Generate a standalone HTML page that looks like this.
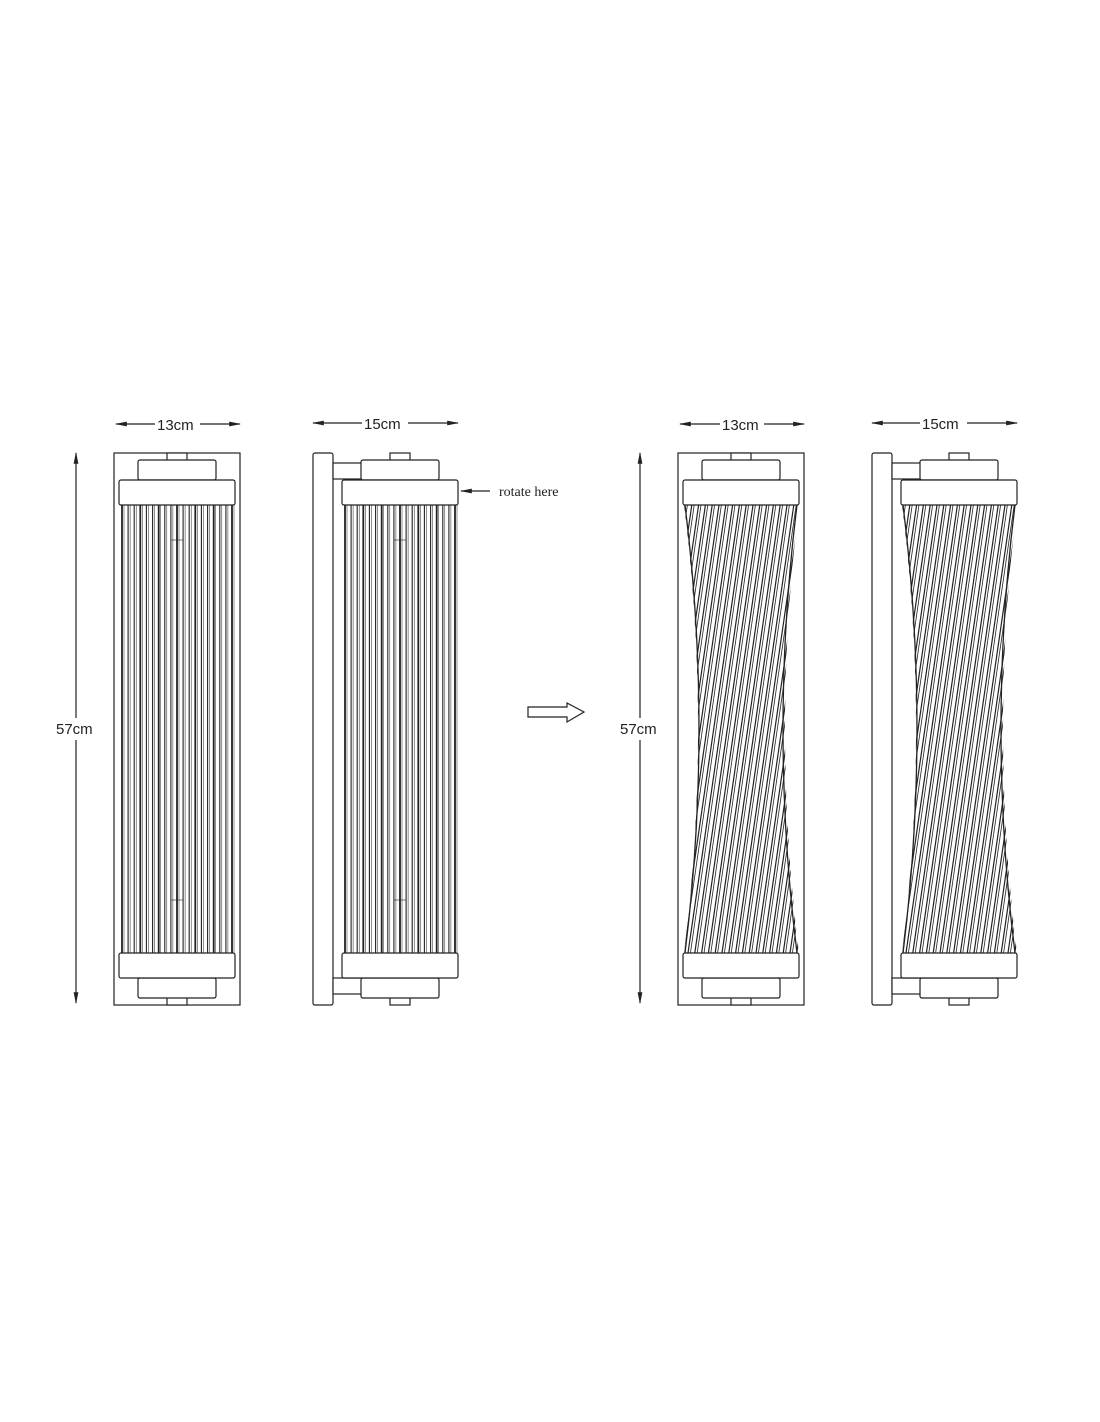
<!DOCTYPE html>
<html><head><style>
body{margin:0;background:#fff;}
svg{display:block}
text{font-family:"Liberation Sans",sans-serif;font-size:15px;fill:#222}
</style></head><body>
<svg id="s" width="1100" height="1422" viewBox="0 0 1100 1422" xmlns="http://www.w3.org/2000/svg">
<defs>
<marker id="a" markerWidth="10" markerHeight="6" refX="9" refY="3" orient="auto"><path d="M0,1 L10,3 L0,5z" fill="#222"/></marker>
<clipPath id="c1"><path d="M684,505 Q712,729 684,953 H799 Q771,729 799,505 Z"/></clipPath>
<clipPath id="c2"><path d="M902,505 Q930,729 902,953 H1017 Q989,729 1017,505 Z"/></clipPath>
</defs>
<g stroke="#222" stroke-width="1.2" fill="none">
<line x1="155" y1="424" x2="116" y2="424" marker-end="url(#a)"/>
<line x1="200" y1="424" x2="240" y2="424" marker-end="url(#a)"/>
<line x1="362" y1="423" x2="313" y2="423" marker-end="url(#a)"/>
<line x1="408" y1="423" x2="458" y2="423" marker-end="url(#a)"/>
<line x1="720" y1="424" x2="680" y2="424" marker-end="url(#a)"/>
<line x1="764" y1="424" x2="804" y2="424" marker-end="url(#a)"/>
<line x1="920" y1="423" x2="872" y2="423" marker-end="url(#a)"/>
<line x1="967" y1="423" x2="1017" y2="423" marker-end="url(#a)"/>
<line x1="76" y1="718" x2="76" y2="453" marker-end="url(#a)"/>
<line x1="76" y1="740" x2="76" y2="1003" marker-end="url(#a)"/>
<line x1="640" y1="718" x2="640" y2="453" marker-end="url(#a)"/>
<line x1="640" y1="740" x2="640" y2="1003" marker-end="url(#a)"/>
<line x1="490" y1="491" x2="461" y2="491" marker-end="url(#a)"/>
<path d="M528,707 H567 V703 L584,712 L567,722 V717 H528 Z"/>
</g>
<g stroke="#222" stroke-width="1.2" fill="#fff" id="lamps"></g>
<text x="157" y="430">13cm</text>
<text x="364" y="429">15cm</text>
<text x="722" y="430">13cm</text>
<text x="922" y="429">15cm</text>
<text x="56" y="734">57cm</text>
<text x="620" y="734">57cm</text>
<text x="499" y="496" style="font-family:'Liberation Serif',serif;font-size:14px">rotate here</text>
</svg>
<script>
var g=document.getElementById('lamps'),h='';
function R(x,y,w,hh,r){h+='<rect x="'+x+'" y="'+y+'" width="'+w+'" height="'+hh+'" rx="'+(r||0)+'"/>';}
function L(a,b,c,d,w){h+='<line x1="'+a+'" y1="'+b+'" x2="'+c+'" y2="'+d+'" stroke-width="'+(w||1)+'"/>';}
var cid=0;
function rods(x0,x1,tw){
 var c=(x0+x1)/2;
 if(!tw){for(var i=0;i<=18;i++){var x=x0+2+i*(x1-x0-4)/18;L(x.toFixed(1),505,x.toFixed(1),953,i%3==0?1.8:1.1);L((x+2).toFixed(1),505,(x+2).toFixed(1),953,0.5);}
  L(c-6,540,c+6,540,0.6);L(c-6,900,c+6,900,0.6);}
 else{cid++;var a=x0+1,b=x1-1;
  h+='<g clip-path="url(#c'+cid+')">';
  for(var i=0;i<28;i++){var xt=a+i*6.8;L(xt.toFixed(1),505,(xt-65).toFixed(1),953,1.2);L((xt+2.4).toFixed(1),505,(xt-62.6).toFixed(1),953,0.8);}
  h+='</g>';
  h+='<path fill="none" stroke-width="1.3" d="M'+a+',505 Q'+(a+28)+',729 '+a+',953"/>';
  h+='<path fill="none" stroke-width="1.3" d="M'+b+',505 Q'+(b-28)+',729 '+b+',953"/>';
 }
}
function lamp(x,wall,tw){
 var bx=wall?x+29:x;
 if(!wall){R(x,453,126,552);}
 else{R(x,453,20,552,2);R(x+20,463,29,16);R(x+20,978,29,16);}
 var cx=wall?bx+58:x+63;
 R(cx-10,453,20,8);R(cx-39,460,78,20,2);
 R(cx-10,997,20,8);R(cx-39,978,78,20,2);
 rods(cx-57,cx+57,tw);
 R(cx-58,480,116,25,2);R(cx-58,953,116,25,2);
}
lamp(114,false,false);lamp(313,true,false);lamp(678,false,true);lamp(872,true,true);
g.innerHTML=h;
</script>
</body></html>
